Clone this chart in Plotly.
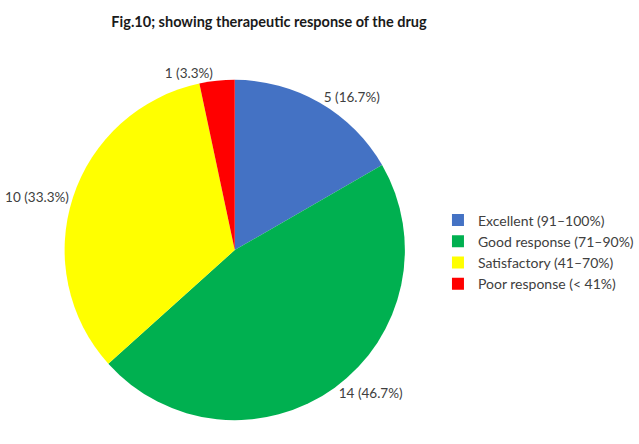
import plotly.graph_objects as go

categories = ["Excellent (91\u2013100%)", "Good response (71\u201390%)",
              "Satisfactory (41\u201370%)", "Poor response (< 41%)"]
counts = [5, 14, 10, 1]
colors = ["#4472C4", "#00B050", "#FFFF00", "#FF0000"]

W, H = 639, 444
cx, cy, r = 242, 250, 180
FONT = "Lato, sans-serif"

fig = go.Figure(go.Pie(
    labels=categories,
    values=counts,
    sort=False,
    direction="clockwise",
    rotation=0,
    marker=dict(colors=colors, line=dict(width=0)),
    texttemplate="%{value} (%{percent:.1%})",
    textposition="outside",
    textfont=dict(family=FONT, size=13.5, color="#404040"),
    hoverinfo="label+value+percent",
    domain=dict(x=[(cx - r) / W, (cx + r) / W], y=[(H - cy - r) / H, (H - cy + r) / H]),
))

fig.update_layout(
    width=W, height=H,
    margin=dict(l=0, r=0, t=0, b=0),
    paper_bgcolor="white",
    title=dict(text="<b>Fig.10; showing therapeutic response of the drug</b>",
               x=269 / W, xanchor="center", y=1 - 22 / H, yanchor="middle",
               font=dict(family=FONT, size=14.5, color="#1a1a1a")),
    legend=dict(x=457 / W, xanchor="left", y=1 - 252 / H, yanchor="middle",
                font=dict(family=FONT, size=14, color="#404040"),
                itemsizing="constant", tracegroupgap=0, itemwidth=30),
    showlegend=True,
)

fig.write_html("out.html")
